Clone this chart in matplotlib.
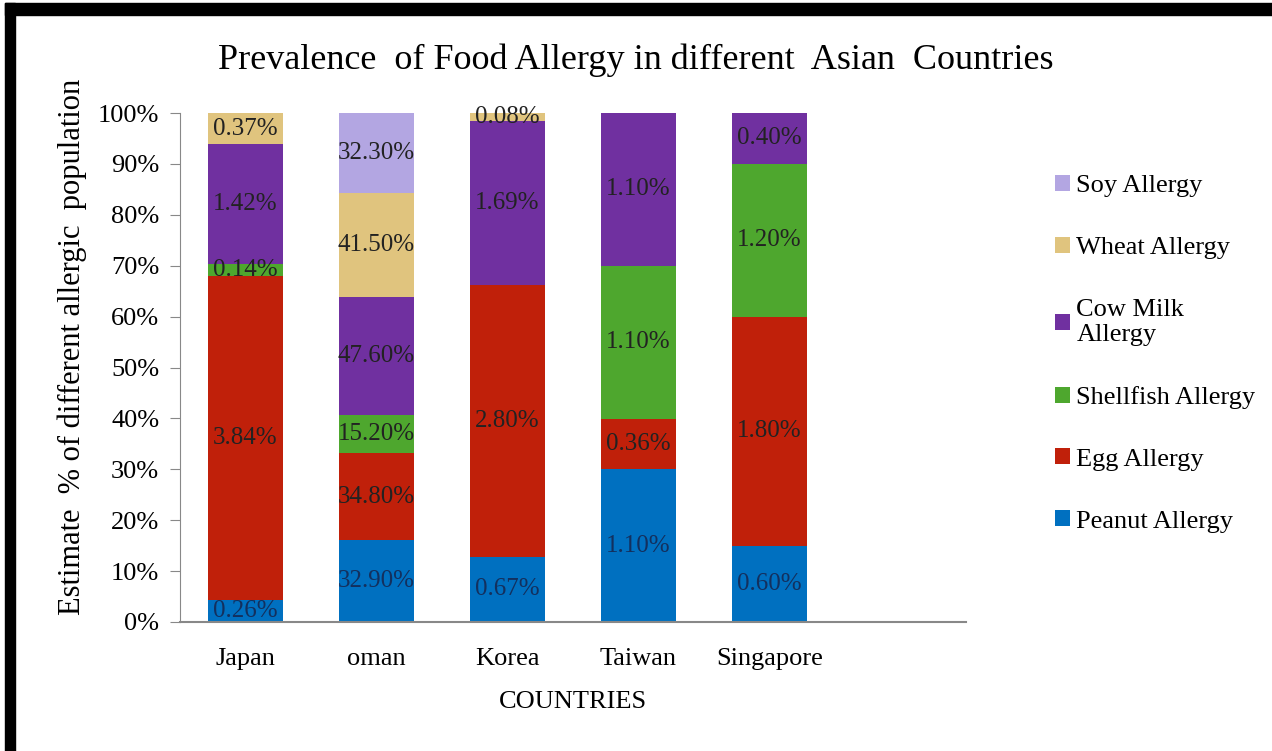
import numpy as np
import matplotlib.pyplot as plt
from matplotlib.patches import Rectangle

plt.rcParams['font.family'] = ['Liberation Serif', 'DejaVu Serif']

countries = ["Japan", "oman", "Korea", "Taiwan", "Singapore"]
allergies = ["Peanut Allergy", "Egg Allergy", "Shellfish Allergy",
             "Cow Milk\nAllergy", "Wheat Allergy", "Soy Allergy"]

# raw prevalence values (%) per allergy, one entry per country; 0 = not reported
peanut = [0.26, 32.90, 0.67, 1.10, 0.60]
egg = [3.84, 34.80, 2.80, 0.36, 1.80]
shellfish = [0.14, 15.20, 0.00, 1.10, 1.20]
cow_milk = [1.42, 47.60, 1.69, 1.10, 0.40]
wheat = [0.37, 41.50, 0.08, 0.00, 0.00]
soy = [0.00, 32.30, 0.00, 0.00, 0.00]

colors = ["#0070C0", "#C0200A", "#4EA72E", "#7030A0", "#E0C47E", "#B3A6E2"]
label_colors = ["#13305e", "#222222", "#222222", "#222222", "#222222", "#222222"]

series = np.array([peanut, egg, shellfish, cow_milk, wheat, soy])
shares = series / series.sum(axis=0) * 100

fig = plt.figure(figsize=(12.72, 7.51), dpi=100)
ax = fig.add_axes([180 / 1272, 1 - 622 / 751, 786 / 1272, 509 / 751])

x = np.arange(len(countries))
bottom = np.zeros(len(countries))
handles = []
for i in range(len(allergies)):
    bars = ax.bar(x, shares[i], 0.57, bottom=bottom, color=colors[i], label=allergies[i])
    handles.append(bars)
    for j in range(len(countries)):
        if series[i][j] > 0:
            ax.text(x[j], bottom[j] + shares[i][j] / 2, "{:.2f}%".format(series[i][j]),
                    ha="center", va="center", fontsize=18, color=label_colors[i])
    bottom += shares[i]

ax.set_xlim(-0.5, 5.5)
ax.set_ylim(0, 100)
ax.set_yticks(np.arange(0, 101, 10))
ax.set_yticklabels(["{}%".format(v) for v in range(0, 101, 10)], fontsize=19)
ax.set_xticks(x)
ax.set_xticklabels(countries, fontsize=19)
ax.tick_params(axis="x", length=0, pad=19)
ax.tick_params(axis="y", length=7, color="#888888", pad=8)
for s in ["top", "right"]:
    ax.spines[s].set_visible(False)
ax.spines["left"].set_color("#888888")
ax.spines["bottom"].set_color("#888888")
ax.spines["bottom"].set_linewidth(1.5)

ax.set_xlabel("COUNTRIES", fontsize=19, labelpad=15)
ax.set_ylabel("Estimate  % of different allergic  population", fontsize=22, labelpad=8, y=0.54)
fig.text(0.5, 1 - 60 / 751, "Prevalence  of Food Allergy in different  Asian  Countries",
         ha="center", va="center", fontsize=26)

leg = ax.legend(handles[::-1], allergies[::-1], loc="upper left",
                bbox_to_anchor=(1042 / 1272, 1 - 162 / 751), bbox_transform=fig.transFigure,
                frameon=False, fontsize=19, labelspacing=1.5, handlelength=0.55,
                handleheight=0.55, handletextpad=0.25, borderpad=0)

# black frame along the top and left edge of the picture
fig.patches.append(Rectangle((5 / 1272, 0), 10 / 1272, 1 - 3 / 751, transform=fig.transFigure,
                             color="black", zorder=10))
fig.patches.append(Rectangle((5 / 1272, 1 - 15 / 751), 1, 12 / 751, transform=fig.transFigure,
                             color="black", zorder=10))

fig.savefig("out.png", dpi=100)
